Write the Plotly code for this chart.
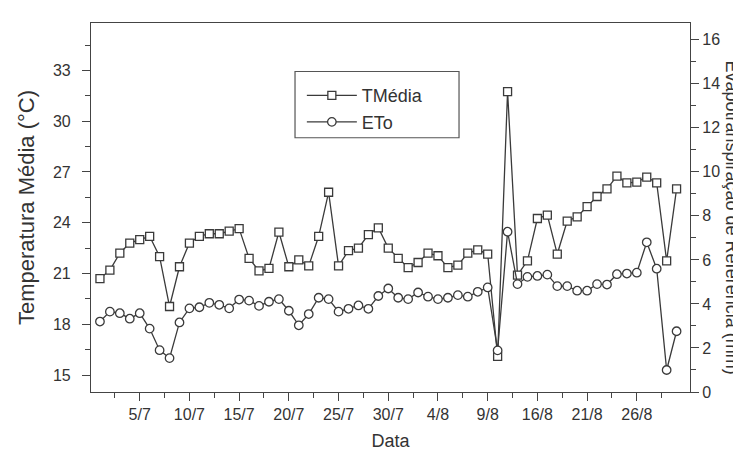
import plotly.graph_objects as go

# Day index (1 = 1/7)
dias = list(range(1, 60))

tmedia = [20.7, 21.2, 22.2, 22.8, 23.0, 23.2, 22.0, 19.05, 21.4, 22.8,
          23.2, 23.35, 23.35, 23.5, 23.65, 21.9, 21.15, 21.3, 23.45, 21.4,
          21.8, 21.45, 23.2, 25.8, 21.45, 22.35, 22.5, 23.3, 23.7, 22.5,
          21.9, 21.35, 21.65, 22.2, 22.05, 21.35, 21.5, 22.2, 22.4, 22.15,
          16.1, 31.75, 20.9, 21.75, 24.25, 24.45, 22.15, 24.1, 24.35, 24.95,
          25.55, 26.0, 26.75, 26.35, 26.4, 26.7, 26.35, 21.75, 26.0]

eto = [3.2, 3.65, 3.58, 3.33, 3.58, 2.88, 1.9, 1.54, 3.16, 3.8,
       3.85, 4.05, 3.96, 3.8, 4.2, 4.15, 3.91, 4.1, 4.22, 3.69,
       3.03, 3.54, 4.28, 4.22, 3.65, 3.78, 3.93, 3.78, 4.36, 4.7,
       4.28, 4.22, 4.52, 4.33, 4.22, 4.28, 4.4, 4.33, 4.55, 4.75,
       1.89, 7.28, 4.9, 5.23, 5.27, 5.33, 4.81, 4.81, 4.6, 4.6,
       4.9, 4.88, 5.35, 5.38, 5.42, 6.8, 5.6, 1.0, 2.76]

tick_pos = [5, 10, 15, 20, 25, 30, 35, 40, 45, 50, 55]
tick_lab = ["5/7", "10/7", "15/7", "20/7", "25/7", "30/7",
            "4/8", "9/8", "16/8", "21/8", "26/8"]
minor_x = [2.5, 7.5, 12.5, 17.5, 22.5, 27.5, 32.5, 37.5, 42.5, 47.5, 52.5, 57.5]

y1_ticks = [15, 18, 21, 24, 27, 30, 33]
y1_minor = [16.5, 19.5, 22.5, 25.5, 28.5, 31.5, 34.5]
y2_ticks = [0, 2, 4, 6, 8, 10, 12, 14, 16]
y2_minor = [1, 3, 5, 7, 9, 11, 13, 15]

FONT = "Liberation Sans, Arial, sans-serif"
LC = "#3a3a3a"
AX = "#444444"
TXT = "#333333"

fig = go.Figure()
fig.add_trace(go.Scatter(
    x=dias, y=tmedia, name="TMédia", mode="lines+markers",
    line=dict(color=LC, width=1.3),
    marker=dict(symbol="square", size=8, color="white",
                line=dict(color=LC, width=1.3)),
    yaxis="y"))
fig.add_trace(go.Scatter(
    x=dias, y=eto, name="ETo", mode="lines+markers",
    line=dict(color=LC, width=1.3),
    marker=dict(symbol="circle", size=8.5, color="white",
                line=dict(color=LC, width=1.3)),
    yaxis="y2"))

fig.update_layout(
    width=741, height=452,
    margin=dict(l=83, r=59, t=15, b=64),
    paper_bgcolor="white", plot_bgcolor="white",
    font=dict(family=FONT, size=16, color=TXT),
    showlegend=True,
    legend=dict(
        x=0.352, y=0.853, xanchor="left", yanchor="top",
        borderwidth=0, bgcolor="rgba(0,0,0,0)",
        font=dict(size=18, color=TXT),
        itemwidth=50, tracegroupgap=0,
    ),
    shapes=[dict(
        type="rect", xref="paper", yref="paper",
        x0=0.3406, x1=0.6144, y0=0.689, y1=0.8686,
        line=dict(color="#555555", width=1.2), fillcolor="rgba(0,0,0,0)",
        layer="above",
    )],
    xaxis=dict(
        range=[0.1, 60.35], showgrid=False, zeroline=False,
        showline=True, linecolor=AX, linewidth=1.2, mirror=True,
        ticks="outside", ticklen=8, tickcolor=AX, tickwidth=1.2,
        tickmode="array", tickvals=tick_pos, ticktext=tick_lab,
        tickfont=dict(size=16, color=TXT),
        minor=dict(tickmode="array", tickvals=minor_x, ticks="outside",
                   ticklen=5, tickcolor=AX, tickwidth=1.2),
        title=dict(text="Data", font=dict(size=18, color=TXT), standoff=12),
    ),
    yaxis=dict(
        range=[14, 35.8], showgrid=False, zeroline=False,
        showline=True, linecolor=AX, linewidth=1.2,
        ticks="outside", ticklen=8, tickcolor=AX, tickwidth=1.2,
        tickmode="array", tickvals=y1_ticks, ticklabelstandoff=8,
        tickfont=dict(size=16, color=TXT),
        minor=dict(tickmode="array", tickvals=y1_minor, ticks="outside",
                   ticklen=5, tickcolor=AX, tickwidth=1.2),
        title=dict(text="Temperatura Média (°C)",
                   font=dict(size=22, color=TXT), standoff=12),
    ),
    yaxis2=dict(
        range=[0, 16.76], overlaying="y", side="right",
        showgrid=False, zeroline=False,
        showline=True, linecolor=AX, linewidth=1.2,
        ticks="outside", ticklen=8, tickcolor=AX, tickwidth=1.2,
        tickmode="array", tickvals=y2_ticks,
        tickfont=dict(size=16, color=TXT),
        minor=dict(tickmode="array", tickvals=y2_minor, ticks="outside",
                   ticklen=5, tickcolor=AX, tickwidth=1.2),
    ),
    annotations=[dict(
        text="Evapotranspiração de Referência (mm)",
        xref="paper", yref="paper", x=1.0, y=0.5,
        xanchor="center", yanchor="middle", xshift=42, yshift=-10,
        textangle=90, showarrow=False, borderpad=0,
        font=dict(size=18, color=TXT, family=FONT),
    )],
)

fig.write_html("out.html")
